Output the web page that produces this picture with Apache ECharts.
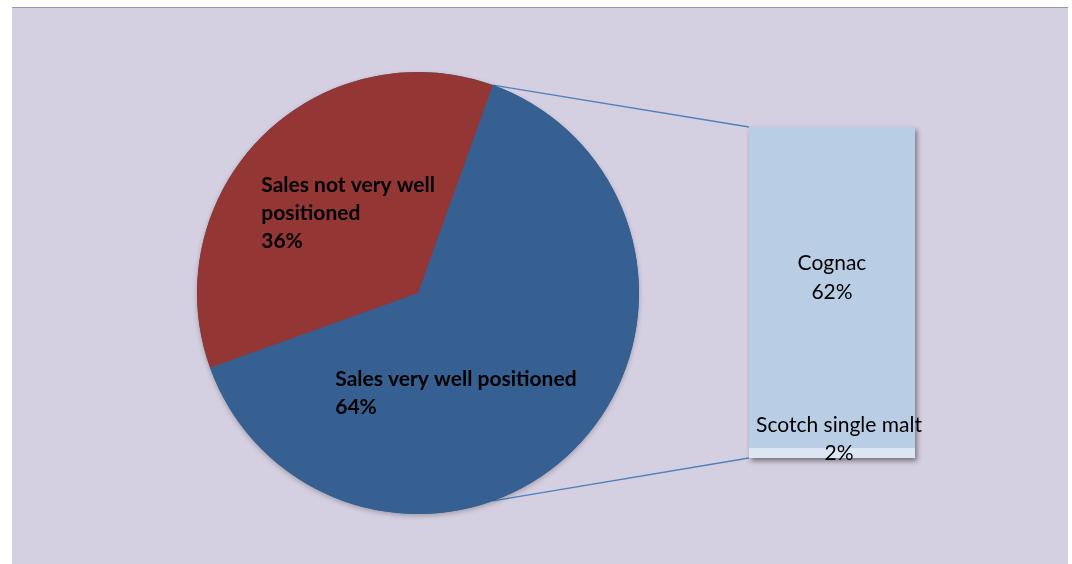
<!DOCTYPE html>
<html>
<head>
<meta charset="utf-8">
<script src="https://cdn.jsdelivr.net/npm/echarts@6/dist/echarts.min.js"></script>
<style>
  html, body { margin: 0; padding: 0; background: #ffffff; }
  #chart { width: 1072px; height: 564px; }
</style>
</head>
<body>
<div id="chart"></div>
<script>
// Share of sales (percent of all sales)
const pieNames = ['Sales very well positioned', 'Sales not very well positioned'];
const notWellValue = 36;
// Breakdown of the "very well positioned" share
const breakdownNames = ['Scotch single malt', 'Cognac'];
const breakdownValues = [2, 62];

const wellValue = breakdownValues.reduce((a, b) => a + b, 0);
const pieValues = [wellValue, notWellValue];
const grandTotal = wellValue + notWellValue;

// Layout of the two parts
const W = 1072, H = 564;
const pieCenter = [418, 293];
const pieRadius = 221;
// angle (clockwise from 12 o'clock) where the "very well" slice begins
const splitAngle = 19.8;
const barBox = { left: 749, top: 127, width: 166, height: 331 };

const colors = {
  panel: '#d5d0e1',
  panelEdge: '#9a94ad',
  well: '#366092',
  notWell: '#943634',
  cognac: '#b9cde5',
  scotch: '#dce6f2',
  connector: '#4f81bd'
};

// nudges for the left-aligned slice labels
const pieLabelShift = [[-28, 20], [16, 0]];

const chart = echarts.init(document.getElementById('chart'), null, { renderer: 'canvas' });

// connector lines from the slice edge (and its mirror) to the breakdown bar
const rad = splitAngle * Math.PI / 180;
const upper = [pieCenter[0] + pieRadius * Math.sin(rad), pieCenter[1] - pieRadius * Math.cos(rad)];
const lower = [pieCenter[0] + pieRadius * Math.sin(rad), pieCenter[1] + pieRadius * Math.cos(rad)];

chart.setOption({
  animation: false,
  backgroundColor: '#ffffff',
  graphic: [
    { type: 'rect', z: -10, silent: true,
      shape: { x: 12, y: 7, width: 1056, height: H - 7 },
      style: { fill: colors.panel } },
    { type: 'line', z: -9, silent: true,
      shape: { x1: 12, y1: 7.5, x2: 1068, y2: 7.5 },
      style: { stroke: colors.panelEdge, lineWidth: 1 } },
    { type: 'line', z: 1, silent: true,
      shape: { x1: upper[0], y1: upper[1], x2: barBox.left, y2: barBox.top },
      style: { stroke: colors.connector, lineWidth: 1.3 } },
    { type: 'line', z: 1, silent: true,
      shape: { x1: lower[0], y1: lower[1], x2: barBox.left, y2: barBox.top + barBox.height },
      style: { stroke: colors.connector, lineWidth: 1.3 } }
  ],
  grid: { left: barBox.left, top: barBox.top, width: barBox.width, height: barBox.height, containLabel: false },
  xAxis: { type: 'category', data: ['breakdown'], show: false },
  yAxis: { type: 'value', min: 0, max: wellValue, show: false, splitLine: { show: false } },
  series: [
    // soft shadow under the pie
    {
      type: 'pie', silent: true, z: 1,
      center: pieCenter, radius: pieRadius,
      label: { show: false }, labelLine: { show: false },
      data: [{ value: grandTotal, itemStyle: { color: colors.well, shadowBlur: 5, shadowColor: 'rgba(0,0,0,0.25)', shadowOffsetY: 2 } }]
    },
    {
      type: 'pie', z: 2,
      center: pieCenter,
      radius: pieRadius,
      startAngle: 90 - splitAngle,
      clockwise: true,
      avoidLabelOverlap: false,
      itemStyle: { borderWidth: 0 },
      label: {
        show: true,
        position: 'inside',
        formatter: '{b}\n{d}%',
        fontFamily: 'Lato',
        fontWeight: 'bold',
        fontSize: 21,
        lineHeight: 28,
        color: '#000000',
        overflow: 'break'
      },
      labelLine: { show: false },
      labelLayout: function (p) {
        const s = pieLabelShift[p.dataIndex];
        return {
          x: p.labelRect.x + s[0],
          y: p.labelRect.y + p.labelRect.height / 2 + s[1],
          align: 'left',
          verticalAlign: 'middle'
        };
      },
      data: [
        { name: pieNames[0], value: pieValues[0], itemStyle: { color: colors.well }, label: { width: 270 } },
        { name: pieNames[1], value: pieValues[1], itemStyle: { color: colors.notWell }, label: { width: 185 } }
      ],
      emphasis: { disabled: true }
    },
    // backing block with the drop shadow for the breakdown bar
    {
      type: 'bar', silent: true, barWidth: '100%', z: 1,
      data: [wellValue],
      itemStyle: { color: colors.cognac, shadowBlur: 5, shadowColor: 'rgba(0,0,0,0.45)', shadowOffsetX: 2, shadowOffsetY: 3 },
      label: { show: false }
    },
    {
      type: 'bar', name: breakdownNames[0], stack: 'b', barWidth: '100%', barGap: '-100%', z: 2,
      data: [breakdownValues[0]],
      itemStyle: { color: colors.scotch },
      label: {
        show: true, position: 'inside', offset: [7, -14],
        formatter: p => breakdownNames[0] + '\n' + Math.round(p.value / grandTotal * 100) + '%',
        fontFamily: 'Lato', fontSize: 21, lineHeight: 28, color: '#000000'
      }
    },
    {
      type: 'bar', name: breakdownNames[1], stack: 'b', barWidth: '100%', barGap: '-100%', z: 2,
      data: [breakdownValues[1]],
      itemStyle: { color: colors.cognac },
      label: {
        show: true, position: 'inside', offset: [0, -10],
        formatter: p => breakdownNames[1] + '\n' + Math.round(p.value / grandTotal * 100) + '%',
        fontFamily: 'Lato', fontSize: 21, lineHeight: 29, color: '#000000'
      }
    }
  ]
});
</script>
</body>
</html>
